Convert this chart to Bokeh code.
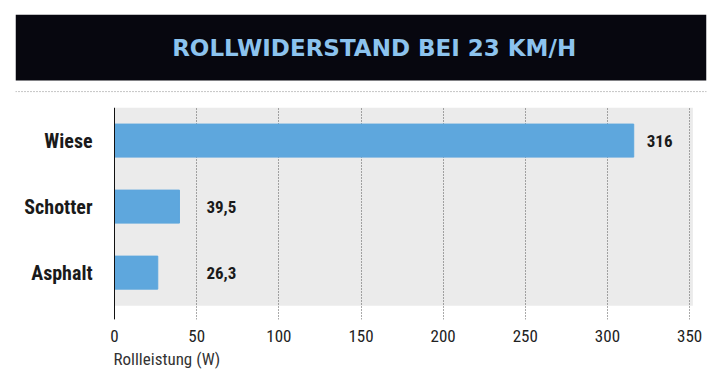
from bokeh.plotting import figure
from bokeh.models import Range1d, FixedTicker, BoxAnnotation, Label, Span
from bokeh.embed import file_html
from bokeh.resources import INLINE
from bokeh.core.properties import value

# ---- data ----
title_text = "ROLLWIDERSTAND BEI 23 KM/H"
categories = ["Wiese", "Schotter", "Asphalt"]
values = [316, 39.5, 26.3]
value_labels = ["316", "39,5", "26,3"]
x_ticks = [0, 50, 100, 150, 200, 250, 300, 350]
x_label = "Rollleistung (W)"
x_max = 352

NARROW = "Roboto Condensed"
n = len(categories)
ypos = [n - i - 0.5 for i in range(n)]
label_anchor = [max(v, 48) for v in values]

W, H = 710, 388
p = figure(width=W, height=H, output_backend="svg", toolbar_location=None,
           x_range=Range1d(-60.3, 360.3), y_range=Range1d(-0.21, 4.41),
           min_border_left=15, min_border_right=4, min_border_top=14, min_border_bottom=69,
           title=x_label, title_location="below")
p.outline_line_color = None
p.background_fill_color = "white"
p.border_fill_color = "white"

# chart background (under the grid)
p.add_layout(BoxAnnotation(left=0, right=x_max, bottom=0, top=n, fill_color="#ebebeb",
                           fill_alpha=1, line_color=None, level="image"))
# white area above the chart (hides grid lines there)
p.add_layout(BoxAnnotation(bottom=n, fill_color="white", fill_alpha=1, line_color=None))
# black title banner
p.add_layout(BoxAnnotation(bottom=n + 0.409, fill_color="#07070f", fill_alpha=1,
                           line_color=None))
p.add_layout(Span(location=n + 0.242, dimension="width", line_dash="1 2",
                  line_color="#8a8a8a", line_width=1))
p.add_layout(Label(x=158, y=n + 0.909, text=title_text, text_align="center",
                   text_baseline="middle", text_font="DejaVu Sans", text_font_style="bold",
                   text_font_size="23px", text_color="#8cc3ee"))

p.hbar(y=ypos, right=values, left=0, height=0.5, color="#5ea7dd")
p.text(x=label_anchor, y=ypos, text=value_labels, x_offset=13, text_baseline="middle",
       text_align="left", text_font=value(NARROW), text_font_style="bold",
       text_font_size="17px", text_color="#1a1a1a")

p.ygrid.visible = False
p.xgrid.ticker = FixedTicker(ticks=x_ticks)
p.xgrid.grid_line_color = "#555555"
p.xgrid.grid_line_dash = "1 2"
p.xgrid.grid_line_width = 1

xa = p.xaxis[0]
xa.ticker = FixedTicker(ticks=x_ticks)
xa.axis_line_color = None
xa.major_tick_line_color = None
xa.minor_tick_line_color = None
xa.major_label_text_font = NARROW
xa.major_label_text_font_size = "17px"
xa.major_label_text_color = "#222222"
xa.major_label_standoff = 4

ya = p.yaxis[0]
ya.fixed_location = 0
ya.bounds = (-0.21, n)
ya.ticker = FixedTicker(ticks=ypos)
ya.major_label_overrides = {y: c for y, c in zip(ypos, categories)}
ya.axis_line_color = "#111111"
ya.axis_line_width = 1
ya.major_tick_line_color = None
ya.minor_tick_line_color = None
ya.major_label_text_font = NARROW
ya.major_label_text_font_style = "bold"
ya.major_label_text_font_size = "20px"
ya.major_label_text_color = "#1a1a1a"
ya.major_label_standoff = 16

p.title.align = "left"
p.title.text_font = NARROW
p.title.text_font_style = "normal"
p.title.text_font_size = "17px"
p.title.text_color = "#333333"
p.title.standoff = 5
p.title.offset = 98

open("out.html", "w").write(file_html(p, INLINE))
